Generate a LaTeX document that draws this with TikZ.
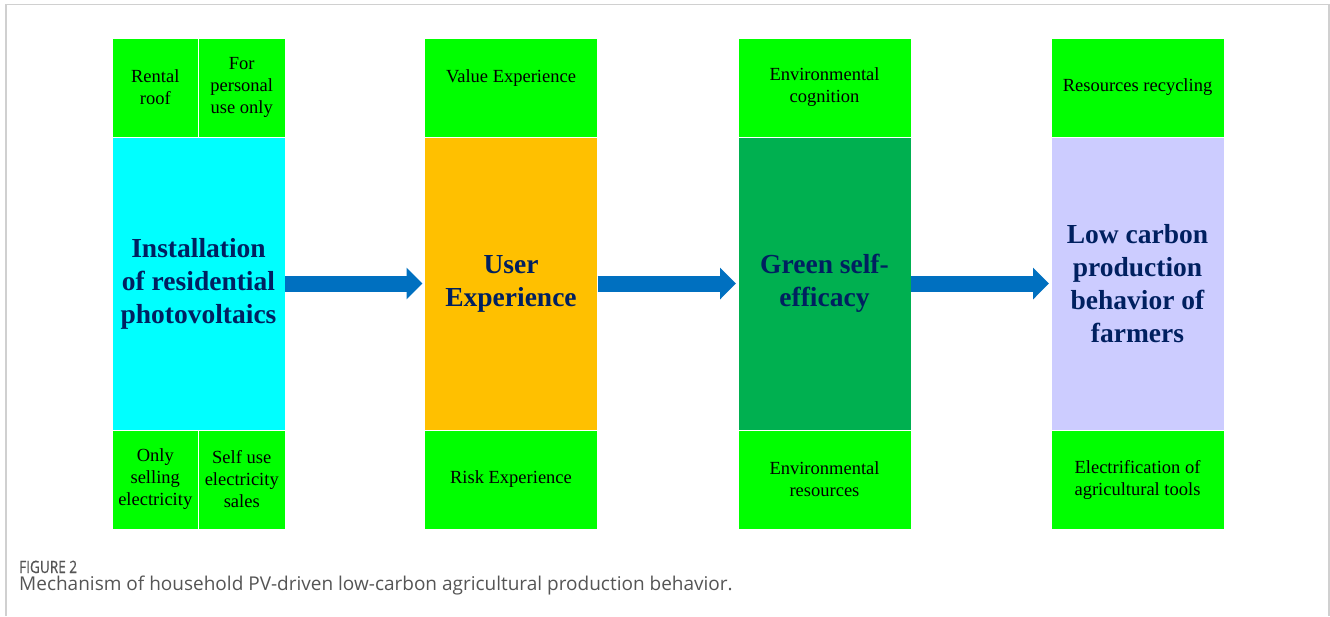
\documentclass[tikz,border=0pt]{standalone}
\usepackage{fontspec}
\setmainfont{Liberation Serif}
\newfontfamily\capfont{Open Sans}
\newfontfamily\capfontnarrow[FakeStretch=0.8, FakeBold=0.6]{Open Sans}
\usetikzlibrary{arrows.meta}
\definecolor{cellgreen}{HTML}{00FF00}
\definecolor{cellcyan}{HTML}{00FFFF}
\definecolor{cellorange}{HTML}{FFC000}
\definecolor{celldkgreen}{HTML}{00B050}
\definecolor{celllav}{HTML}{CCCCFF}
\definecolor{flowblue}{HTML}{0070C0}
\definecolor{headnavy}{HTML}{002060}
\definecolor{framegray}{HTML}{D0D0D0}
\definecolor{capgray}{HTML}{555555}
\tikzset{
  cell/.style={draw=white, line width=0.8pt, inner sep=0pt, outer sep=0pt, align=center,
    font=\fontsize{18.5}{22}\selectfont, text=black},
  topcell/.style={cell, fill=cellgreen, minimum width=173pt, minimum height=99pt},
  halfcell/.style={cell, fill=cellgreen, minimum width=86.5pt, minimum height=99pt},
  corecell/.style={cell, minimum width=173pt, minimum height=293pt,
    font=\bfseries\fontsize{27.5}{33}\selectfont, text=headnavy},
  flow/.style={draw=flowblue, line width=16pt, shorten >=2pt,
    -{Triangle[width=31pt, length=16pt]}},
}
\begin{document}
\begin{tikzpicture}[x=1pt, y=-1pt]
\useasboundingbox (0,0) rectangle (1330,616);
\fill[white] (0,0) rectangle (1330,616);
% frame around the figure
\draw[framegray, line width=1.5pt] (6,616) -- (6,4.5) -- (1329,4.5) -- (1329,616);

% column 1
\node[halfcell] (c1ta) at (155.25,87.5) {Rental\\roof};
\node[halfcell] (c1tb) at (241.75,87.5) {For\\personal\\use only};
\node[corecell, fill=cellcyan] (c1) at (198.5,283.5) {Installation\\of residential\\photovoltaics};
\node[halfcell] (c1ba) at (155.25,479.5) {Only\\selling\\electricity};
\node[halfcell] (c1bb) at (241.75,479.5) {Self use\\electricity\\sales};

% column 2
\node[topcell] (c2t) at (511,87.5) {Value Experience\\\mbox{}};
\node[corecell, fill=cellorange] (c2) at (511,283.5) {User\\Experience};
\node[topcell] (c2b) at (511,479.5) {Risk Experience};

% column 3
\node[topcell] (c3t) at (824.5,87.5) {Environmental\\cognition};
\node[corecell, fill=celldkgreen] (c3) at (824.5,283.5) {Green self-\\efficacy};
\node[topcell] (c3b) at (824.5,479.5) {Environmental\\resources};

% column 4
\node[topcell] (c4t) at (1137.5,87.5) {Resources recycling};
\node[corecell, fill=celllav] (c4) at (1137.5,283.5) {Low carbon\\production\\behavior of\\farmers};
\node[topcell] (c4b) at (1137.5,479.5) {Electrification of\\agricultural tools};

% flow arrows
\draw[flow] (c1.east) -- (c2.west);
\draw[flow] (c2.east) -- (c3.west);
\draw[flow] (c3.east) -- (c4.west);

% caption
\node[anchor=base west, inner sep=0pt, text=capgray, font=\capfontnarrow\fontsize{17}{20}\selectfont] (fig) at (19,573) {FIGURE 2};
\node[anchor=base west, inner sep=0pt, text=capgray, font=\capfont\fontsize{19}{22}\selectfont] (cap) at (19,590) {Mechanism of household PV-driven low-carbon agricultural production behavior.};
\end{tikzpicture}
\end{document}
